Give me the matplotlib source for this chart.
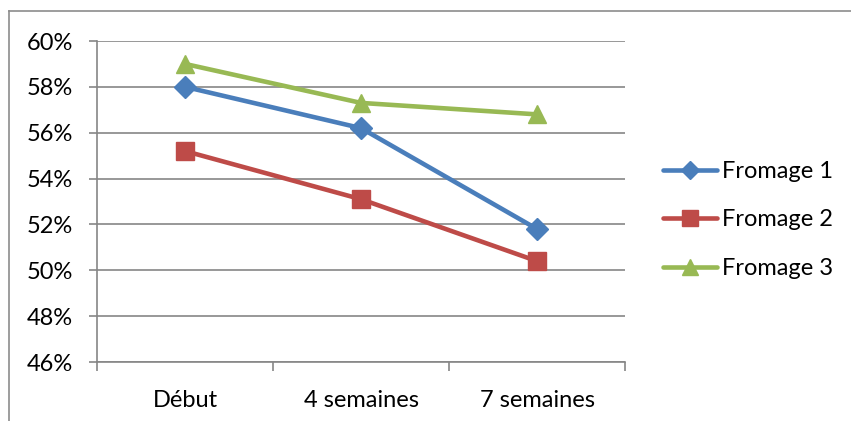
import matplotlib
matplotlib.use("Agg")
import matplotlib.pyplot as plt
from matplotlib.lines import Line2D
from matplotlib.ticker import FuncFormatter, FixedLocator

plt.rcParams['font.family'] = ['Lato', 'DejaVu Sans']

categories = ["Début", "4 semaines", "7 semaines"]
series_names = ["Fromage 1", "Fromage 2", "Fromage 3"]
fromage1 = [58.0, 56.2, 51.8]
fromage2 = [55.2, 53.1, 50.4]
fromage3 = [59.0, 57.3, 56.8]
y_ticks = [46, 48, 50, 52, 54, 56, 58, 60]

colors = ["#4A7EBB", "#BE4B48", "#98B954"]
markers = ["D", "s", "^"]
marker_sizes = [11, 13.5, 13.5]

W, H = 851, 421
FS = 17
fig = plt.figure(figsize=(W / 100, H / 100), dpi=100)

# chart frame (top and left edges visible)
frame_col = "#8C8C8C"
fig.add_artist(Line2D([9 / W, 1.0], [1 - 11 / H, 1 - 11 / H], color=frame_col, lw=1.2,
                      transform=fig.transFigure))
fig.add_artist(Line2D([9 / W, 9 / W], [0.0, 1 - 11 / H], color=frame_col, lw=1.2,
                      transform=fig.transFigure))

ax = fig.add_axes([97 / W, 59 / H, 528 / W, 321 / H])

x = list(range(len(categories)))
for vals, name, c, m, ms in zip([fromage1, fromage2, fromage3], series_names,
                                colors, markers, marker_sizes):
    ax.plot(x, vals, color=c, lw=3.3, marker=m, markersize=ms, label=name,
            solid_capstyle="round", zorder=3)

ax.set_xlim(-0.5, 2.5)
ax.set_ylim(46, 60)

grid_col = "#868686"
ax.yaxis.set_major_locator(FixedLocator(y_ticks))
ax.yaxis.set_major_formatter(FuncFormatter(lambda v, p: f"{v:.0f}%"))
ax.grid(axis="y", color=grid_col, lw=1.2, zorder=1)
ax.set_axisbelow(True)

ax.set_xticks(x)
ax.set_xticklabels(categories)
ax.set_xticks([-0.5, 0.5, 1.5, 2.5], minor=True)
ax.tick_params(axis="x", which="major", length=0, pad=20, labelsize=FS)
ax.tick_params(axis="x", which="minor", length=6.5, width=1.2, color=grid_col, direction="out")
ax.tick_params(axis="y", which="major", length=5.5, width=1.2, color=grid_col,
               direction="out", pad=12, labelsize=FS)

for s in ["top", "right"]:
    ax.spines[s].set_visible(False)
for s in ["left", "bottom"]:
    ax.spines[s].set_color(grid_col)
    ax.spines[s].set_linewidth(1.2)

leg = ax.legend(loc="center left", bbox_to_anchor=(663 / W, 1 - 220 / H),
                bbox_transform=fig.transFigure, frameon=False, borderpad=0,
                borderaxespad=0, fontsize=FS, handlelength=2.3, markerscale=0.85,
                handletextpad=0.2, labelspacing=1.17)

fig.savefig("out.png", dpi=100)
